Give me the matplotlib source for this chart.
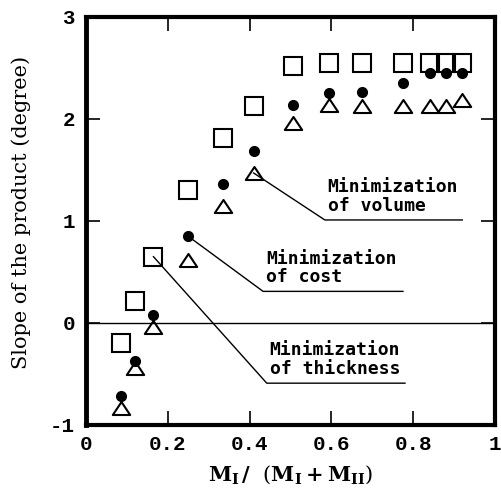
import matplotlib
matplotlib.use("Agg")
import matplotlib.pyplot as plt
from matplotlib.path import Path

# ---- data ----
ratio = [0.085, 0.12, 0.165, 0.25, 0.335, 0.41, 0.505, 0.595, 0.675, 0.775, 0.84, 0.88, 0.92]
slope_thickness = [-0.20, 0.22, 0.65, 1.30, 1.81, 2.13, 2.52, 2.55, 2.55, 2.55, 2.55, 2.55, 2.55]
slope_cost = [-0.72, -0.37, 0.08, 0.85, 1.36, 1.69, 2.14, 2.25, 2.26, 2.35, 2.45, 2.45, 2.45]
slope_volume = [-0.83, -0.44, -0.04, 0.62, 1.15, 1.47, 1.96, 2.14, 2.13, 2.13, 2.13, 2.13, 2.19]

x_ticks = [0, 0.2, 0.4, 0.6, 0.8, 1.0]
x_ticklabels = ["0", "0.2", "0.4", "0.6", "0.8", "1"]
y_ticks = [-1, 0, 1, 2, 3]
y_ticklabels = ["-1", "0", "1", "2", "3"]

# annotations: (label, anchor point, elbow point, end x)
annotations = [
    ("Minimization\nof volume", (0.41, 1.47), (0.584, 1.01), 0.92),
    ("Minimization\nof cost", (0.25, 0.85), (0.433, 0.31), 0.775),
    ("Minimization\nof thickness", (0.165, 0.65), (0.442, -0.59), 0.78),
]

plt.rcParams["mathtext.fontset"] = "dejavuserif"

fig = plt.figure(figsize=(5.02, 4.98), dpi=100)
ax = fig.add_axes([0.1713, 0.1466, 0.8147, 0.8193])

tri = Path([(-1.0, -0.75), (1.0, -0.75), (0.0, 0.75), (-1.0, -0.75)],
           [Path.MOVETO, Path.LINETO, Path.LINETO, Path.CLOSEPOLY])

ax.axhline(0, color="black", lw=1.0, zorder=1)

ax.plot(ratio, slope_thickness, ls="none", marker="s", ms=12.5, mfc="none",
        mec="black", mew=1.5, zorder=3)
ax.plot(ratio, slope_volume, ls="none", marker=tri, ms=12.5, mfc="none",
        mec="black", mew=1.5, zorder=3)
ax.plot(ratio, slope_cost, ls="none", marker="o", ms=7, mfc="black",
        mec="black", zorder=4)

for label, (xa, ya), (xe, ye), xend in annotations:
    ax.plot([xa, xe, xend], [ya, ye, ye], color="black", lw=1.0, zorder=2)
    ax.text(xe + 0.007, ye + 0.05, label, ha="left", va="bottom",
            family="DejaVu Sans Mono", fontsize=13, fontweight="bold",
            linespacing=1.05)

ax.set_xlim(0, 1)
ax.set_ylim(-1, 3)
ax.set_xticks(x_ticks)
ax.set_xticklabels(x_ticklabels)
ax.set_yticks(y_ticks)
ax.set_yticklabels(y_ticklabels)

for sp in ax.spines.values():
    sp.set_linewidth(3.0)
ax.spines["left"].set_linewidth(3.5)

ax.tick_params(axis="both", direction="in", length=10, width=1.2,
               top=True, right=True, labelsize=15)
ax.tick_params(axis="x", pad=7)
ax.tick_params(axis="y", pad=8)
for lab in ax.get_xticklabels() + ax.get_yticklabels():
    lab.set_family("Liberation Mono")
    lab.set_fontweight("bold")

ax.set_ylabel("Slope of the product (degree)", family="DejaVu Serif",
              fontsize=15)
ax.yaxis.set_label_coords(-0.135, 0.522)
ax.set_xlabel(r"$\mathbf{M_{I}}\,\mathbf{/}\ \ (\mathbf{M_{I}+M_{II}})$",
              fontsize=15, labelpad=7)

fig.savefig("out.png", dpi=100)
